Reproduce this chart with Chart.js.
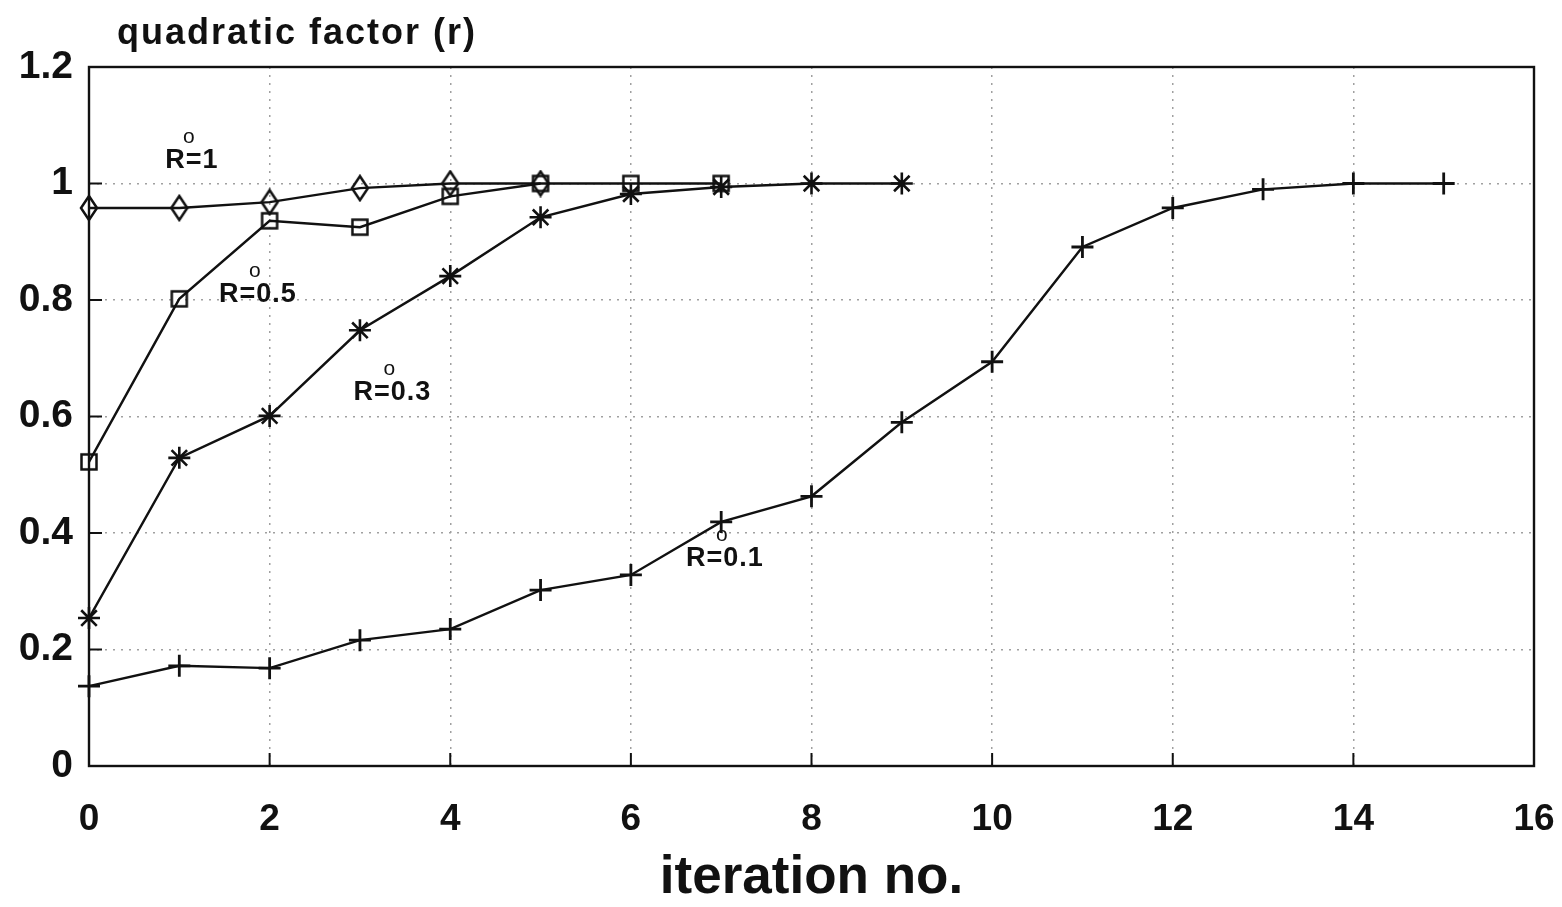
<!DOCTYPE html>
<html>
<head>
<meta charset="utf-8">
<script src="https://cdn.jsdelivr.net/npm/chart.js@4.4.1/dist/chart.umd.min.js"></script>
<style>
  html, body { margin: 0; padding: 0; background: #fff; }
  #wrap { width: 1562px; height: 907px; }
</style>
</head>
<body>
<div id="wrap"><canvas id="myChart" width="1562" height="907"></canvas></div>
<script>
'use strict';

// values
let iterR1 = [0, 1, 2, 3, 4, 5];
let valR1 = [0.958, 0.958, 0.968, 0.992, 1.0, 1.0];

let iterR05 = [0, 1, 2, 3, 4, 5, 6, 7];
let valR05 = [0.522, 0.802, 0.936, 0.925, 0.978, 1.0, 1.0, 1.0];

let iterR03 = [0, 1, 2, 3, 4, 5, 6, 7, 8, 9];
let valR03 = [0.254, 0.529, 0.601, 0.748, 0.841, 0.942, 0.982, 0.994, 1.0, 1.0];

let iterR01 = [0, 1, 2, 3, 4, 5, 6, 7, 8, 9, 10, 11, 12, 13, 14, 15];
let valR01 = [0.137, 0.172, 0.168, 0.216, 0.235, 0.302, 0.328, 0.419, 0.463, 0.59, 0.694, 0.891, 0.958, 0.99, 1.0, 1.0];

let xTickLabels = ['0', '2', '4', '6', '8', '10', '12', '14', '16'];
let yTickLabels = ['0', '0.2', '0.4', '0.6', '0.8', '1', '1.2'];

let curveNames = ['R=1', 'R=0.5', 'R=0.3', 'R=0.1'];
let curveLabelX = [1.14, 1.87, 3.36, 7.04];
let curveLabelY = [1.04, 0.81, 0.641, 0.357];

const FONT = '"Liberation Sans", Arial, Helvetica, sans-serif';

function toPoints(xs, ys) {
  let pts = [];
  for (let i = 0; i < xs.length; i++) {
    pts.push({ x: xs[i], y: ys[i] });
  }
  return pts;
}

function makeDiamond() {
  let c = document.createElement('canvas');
  c.width = 22;
  c.height = 28;
  let ctx = c.getContext('2d');
  ctx.strokeStyle = '#111';
  ctx.lineWidth = 2.5;
  ctx.beginPath();
  ctx.moveTo(11, 2);
  ctx.lineTo(19, 14);
  ctx.lineTo(11, 26);
  ctx.lineTo(3, 14);
  ctx.closePath();
  ctx.stroke();
  return c;
}

function makeSquare() {
  let c = document.createElement('canvas');
  c.width = 20;
  c.height = 20;
  let ctx = c.getContext('2d');
  ctx.strokeStyle = '#111';
  ctx.lineWidth = 2.5;
  ctx.strokeRect(2.5, 2.5, 15, 15);
  return c;
}

// inward ticks, frame, top-left title and curve labels
const framePlugin = {
  id: 'frame',
  beforeDatasetsDraw(chart) {
    let ctx = chart.ctx;
    let area = chart.chartArea;
    let xs = chart.scales.x;
    let ys = chart.scales.y;
    ctx.save();
    ctx.strokeStyle = '#111';
    ctx.lineWidth = 2;
    xs.ticks.forEach(function (t) {
      let px = xs.getPixelForValue(t.value);
      ctx.beginPath();
      ctx.moveTo(px, area.bottom);
      ctx.lineTo(px, area.bottom - 13);
      ctx.stroke();
    });
    ys.ticks.forEach(function (t) {
      let py = ys.getPixelForValue(t.value);
      ctx.beginPath();
      ctx.moveTo(area.left, py);
      ctx.lineTo(area.left + 13, py);
      ctx.stroke();
    });
    ctx.lineWidth = 2.4;
    ctx.strokeRect(area.left, area.top, area.right - area.left, area.bottom - area.top);
    ctx.restore();
  },
  afterDraw(chart) {
    let ctx = chart.ctx;
    let xs = chart.scales.x;
    let ys = chart.scales.y;
    ctx.save();
    ctx.fillStyle = '#111';
    ctx.textBaseline = 'alphabetic';
    ctx.textAlign = 'left';
    ctx.font = 'bold 36px ' + FONT;
    ctx.letterSpacing = '2px';
    ctx.fillText('quadratic factor (r)', 117, 44);
    ctx.letterSpacing = '0px';

    for (let i = 0; i < curveNames.length; i++) {
      let px = xs.getPixelForValue(curveLabelX[i]);
      let py = ys.getPixelForValue(curveLabelY[i]);
      ctx.textAlign = 'center';
      ctx.textBaseline = 'middle';
      ctx.font = 'bold 27px ' + FONT;
      ctx.letterSpacing = '1px';
      ctx.fillText(curveNames[i], px, py);
      ctx.letterSpacing = '0px';
      ctx.font = '21px ' + FONT;
      ctx.fillText('o', px - 3, py - 23);
    }
    ctx.restore();
  }
};

const config = {
  type: 'line',
  data: {
    datasets: [
      {
        label: 'R=1',
        data: toPoints(iterR1, valR1),
        borderColor: '#111',
        borderWidth: 2.4,
        pointStyle: makeDiamond(),
        pointRadius: 10,
        tension: 0,
      },
      {
        label: 'R=0.5',
        data: toPoints(iterR05, valR05),
        borderColor: '#111',
        borderWidth: 2.4,
        pointStyle: makeSquare(),
        pointRadius: 10,
        tension: 0,
      },
      {
        label: 'R=0.3',
        data: toPoints(iterR03, valR03),
        borderColor: '#111',
        borderWidth: 2.4,
        pointStyle: 'star',
        pointRadius: 11,
        pointBorderWidth: 2.6,
        pointBorderColor: '#111',
        tension: 0,
      },
      {
        label: 'R=0.1',
        data: toPoints(iterR01, valR01),
        borderColor: '#111',
        borderWidth: 2.4,
        pointStyle: 'cross',
        pointRadius: 11,
        pointBorderWidth: 2.8,
        pointBorderColor: '#111',
        tension: 0,
      },
    ],
  },
  options: {
    responsive: false,
    animation: false,
    events: [],
    clip: false,
    layout: { padding: { left: 0, right: 28, top: 67, bottom: 0 } },
    plugins: {
      legend: { display: false },
      tooltip: { enabled: false },
    },
    scales: {
      x: {
        type: 'linear',
        min: 0,
        max: 16,
        ticks: {
          stepSize: 2,
          padding: 32,
          color: '#111',
          font: { family: FONT, size: 37, weight: 'bold' },
          maxRotation: 0,
          callback: function (value, index) {
            return xTickLabels[index];
          },
        },
        grid: {
          drawTicks: false,
          color: '#a0a0a0',
          lineWidth: 1.5,
        },
        border: { display: false, dash: [2, 6] },
        title: {
          display: true,
          text: 'iteration no.',
          color: '#111',
          font: { family: FONT, size: 53, weight: 'bold' },
          padding: { top: 0, bottom: -3 },
        },
        afterFit: function (scale) {
          scale.height = 141;
          scale.paddingLeft = 0;
          scale.paddingRight = 0;
        },
      },
      y: {
        min: 0,
        max: 1.2,
        ticks: {
          stepSize: 0.2,
          padding: 16,
          color: '#111',
          font: { family: FONT, size: 39, weight: 'bold' },
          callback: function (value, index) {
            return yTickLabels[index];
          },
        },
        grid: {
          drawTicks: false,
          color: '#a0a0a0',
          lineWidth: 1.5,
        },
        border: { display: false, dash: [2, 6] },
        afterFit: function (scale) {
          scale.width = 89;
          scale.paddingTop = 0;
          scale.paddingBottom = 0;
        },
      },
    },
  },
  plugins: [framePlugin],
};

let chartCanvas = document.getElementById('myChart').getContext('2d');
const myChart = new Chart(chartCanvas, config);
</script>
</body>
</html>
